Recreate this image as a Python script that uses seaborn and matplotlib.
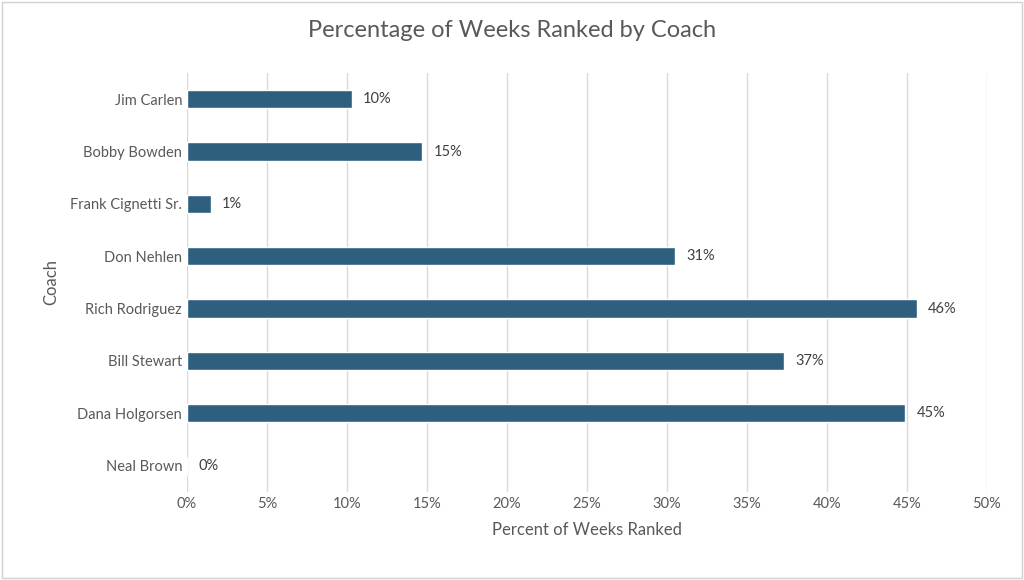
import matplotlib
matplotlib.use("Agg")
import matplotlib.pyplot as plt
import seaborn as sns
import pandas as pd
from matplotlib.ticker import PercentFormatter

coaches = ["Jim Carlen", "Bobby Bowden", "Frank Cignetti Sr.", "Don Nehlen",
           "Rich Rodriguez", "Bill Stewart", "Dana Holgorsen", "Neal Brown"]
pct = [10.3, 14.7, 1.5, 30.5, 45.6, 37.3, 44.9, 0.0]
labels = ["10%", "15%", "1%", "31%", "46%", "37%", "45%", "0%"]

df = pd.DataFrame({"Coach": coaches, "Pct": pct})

sns.set_theme(style="white")
plt.rcParams['font.family'] = ['Lato', 'DejaVu Sans']
fig = plt.figure(figsize=(10.24, 5.8), dpi=100)
ax = fig.add_axes([0.1826, 0.152, 0.7812, 0.722])
sns.barplot(data=df, y="Coach", x="Pct", color="#2E5F7F", width=0.35,
            orient="h", ax=ax, saturation=1)
for i, (v, l) in enumerate(zip(pct, labels)):
    ax.text(v + 0.7, i, l, va="center", ha="left", fontsize=10.5, color="#404040")
ax.set_xlim(0, 50)
ax.set_xticks(range(0, 51, 5))
ax.xaxis.set_major_formatter(PercentFormatter(decimals=0))
ax.grid(axis="x", color="#D9D9D9", linewidth=1)
ax.set_axisbelow(True)
for s in ax.spines.values():
    s.set_visible(False)
ax.tick_params(axis="both", colors="#595959", labelsize=10.5, length=0)
ax.set_xlabel("Percent of Weeks Ranked", fontsize=12, color="#595959", labelpad=8)
ax.set_ylabel("Coach", fontsize=12, color="#595959", labelpad=8)
fig.suptitle("Percentage of Weeks Ranked by Coach", y=0.965, fontsize=17, color="#595959")
fig.patches.append(plt.Rectangle((0.002, 0.003), 0.996, 0.994, transform=fig.transFigure,
                                 fill=False, edgecolor="#D0D0D0", linewidth=1))
fig.savefig("out.png", dpi=100)
